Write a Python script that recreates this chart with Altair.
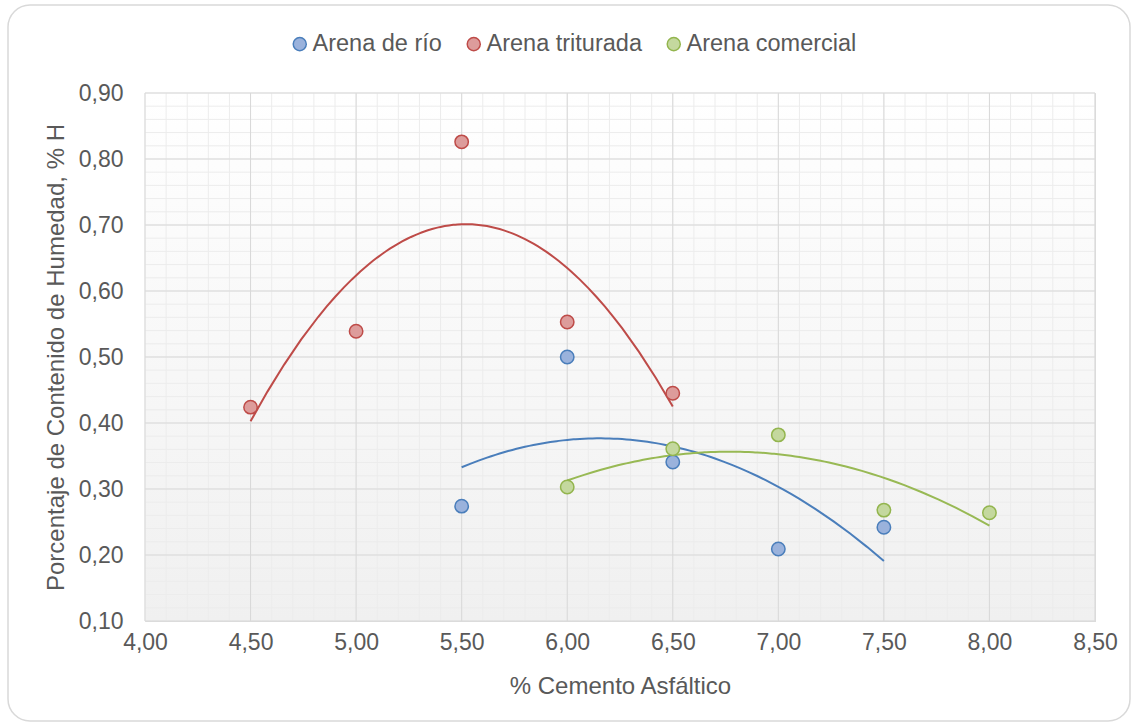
import altair as alt
import pandas as pd

# Moisture content (% H) vs. asphalt cement content, three sand types
SERIES = ["Arena de río", "Arena triturada", "Arena comercial"]

rio_ac = [5.5, 6.0, 6.5, 7.0, 7.5]
rio_h = [0.274, 0.500, 0.341, 0.209, 0.242]

trit_ac = [4.5, 5.0, 5.5, 6.0, 6.5]
trit_h = [0.424, 0.539, 0.826, 0.553, 0.445]

com_ac = [6.0, 6.5, 7.0, 7.5, 8.0]
com_h = [0.303, 0.361, 0.382, 0.268, 0.264]

# axis ticks and grid positions
x_major = [4.0, 4.5, 5.0, 5.5, 6.0, 6.5, 7.0, 7.5, 8.0, 8.5]
y_major = [0.1, 0.2, 0.3, 0.4, 0.5, 0.6, 0.7, 0.8, 0.9]
x_minor = [round(4.0 + 0.1 * i, 2) for i in range(46)]
y_minor = [round(0.1 + 0.02 * i, 2) for i in range(41)]

fill_colors = ["#9ab2dc", "#dd9c9b", "#c4d89e"]
edge_colors = ["#4a7ebb", "#be4b48", "#93b54e"]
trend_colors = ["#4a7ebb", "#be4b48", "#98b954"]

W, H = 950, 528
FONT = "Liberation Sans"
TXT = "#595959"

points = pd.DataFrame({
    "serie": [SERIES[0]] * len(rio_ac) + [SERIES[1]] * len(trit_ac) + [SERIES[2]] * len(com_ac),
    "ac": rio_ac + trit_ac + com_ac,
    "h": rio_h + trit_h + com_h,
})

xs = alt.Scale(domain=[4.0, 8.5], nice=False, zero=False)
ys = alt.Scale(domain=[0.1, 0.9], nice=False, zero=False)

comma_fmt = "replace(format(datum.value, '.2f'), '.', ',')"

x_axis = alt.Axis(
    values=x_major, labelExpr=comma_fmt, title="% Cemento Asfáltico",
    grid=False, ticks=False, domain=False, labelFlush=False,
    labelPadding=10, titlePadding=20,
)
y_axis = alt.Axis(
    values=y_major, labelExpr=comma_fmt, title="Porcentaje de Contenido de Humedad, % H",
    grid=False, ticks=False, domain=False, labelFlush=False,
    labelPadding=22, titlePadding=10,
)

one = pd.DataFrame({"k": [0]})

# outer rounded frame of the chart
frame = alt.Chart(one).mark_rect(
    cornerRadius=22, fillOpacity=0, stroke="#d9d9d9", strokeWidth=1.5, clip=False
).encode(x=alt.value(-137), x2=alt.value(985), y=alt.value(-88), y2=alt.value(628))

# plot-area background, white fading to light grey
background = alt.Chart(one).mark_rect(
    fill=alt.Gradient(
        gradient="linear",
        stops=[alt.GradientStop(color="#ffffff", offset=0),
               alt.GradientStop(color="#f0f0f0", offset=1)],
        x1=0, x2=0, y1=0, y2=1,
    )
).encode(x=alt.value(0), x2=alt.value(W), y=alt.value(0), y2=alt.value(H))

def vrules(vals, color, width):
    return alt.Chart(pd.DataFrame({"ac": vals})).mark_rule(color=color, strokeWidth=width).encode(
        x=alt.X("ac:Q", scale=xs, axis=x_axis)
    )

def hrules(vals, color, width):
    return alt.Chart(pd.DataFrame({"h": vals})).mark_rule(color=color, strokeWidth=width).encode(
        y=alt.Y("h:Q", scale=ys, axis=y_axis)
    )

grid = [
    vrules(x_minor, "#ececec", 1),
    hrules(y_minor, "#ececec", 1),
    vrules(x_major, "#d9d9d9", 1),
    hrules(y_major, "#d9d9d9", 1),
]

# second-order polynomial trend line per series
trends = []
for s, c in zip(SERIES, trend_colors):
    trends.append(
        alt.Chart(points)
        .transform_filter(alt.datum.serie == s)
        .transform_regression("ac", "h", method="poly", order=2)
        .mark_line(color=c, strokeWidth=2)
        .encode(x=alt.X("ac:Q", scale=xs, axis=x_axis), y=alt.Y("h:Q", scale=ys, axis=y_axis))
    )

legend = alt.Legend(
    title=None, orient="none", direction="horizontal", legendX=143, legendY=-61,
    symbolType="circle", symbolSize=170, symbolStrokeWidth=1.5,
    labelFont=FONT, labelFontSize=23.5, labelColor=TXT, labelOffset=1,
    labelLimit=400, columnPadding=20,
)

marks = alt.Chart(points).mark_point(
    filled=True, size=180, strokeWidth=1.5, opacity=1, fillOpacity=1
).encode(
    x=alt.X("ac:Q", scale=xs, axis=x_axis),
    y=alt.Y("h:Q", scale=ys, axis=y_axis),
    fill=alt.Fill("serie:N", scale=alt.Scale(domain=SERIES, range=fill_colors), legend=legend),
    stroke=alt.Stroke("serie:N", scale=alt.Scale(domain=SERIES, range=edge_colors), legend=legend),
)

chart = alt.layer(frame, background, *grid, *trends, marks).properties(
    width=W, height=H,
    autosize=alt.AutoSizeParams(type="none"),
    padding={"left": 145, "top": 93, "right": 41, "bottom": 106},
    background="white",
).configure_view(
    stroke="#cfcfcf", strokeWidth=1
).configure_axis(
    labelFont=FONT, titleFont=FONT, labelFontSize=23, titleFontSize=24,
    labelColor=TXT, titleColor=TXT, titleFontWeight="normal",
)

chart.save("out.html", embed_options={"renderer": "svg", "actions": False})
